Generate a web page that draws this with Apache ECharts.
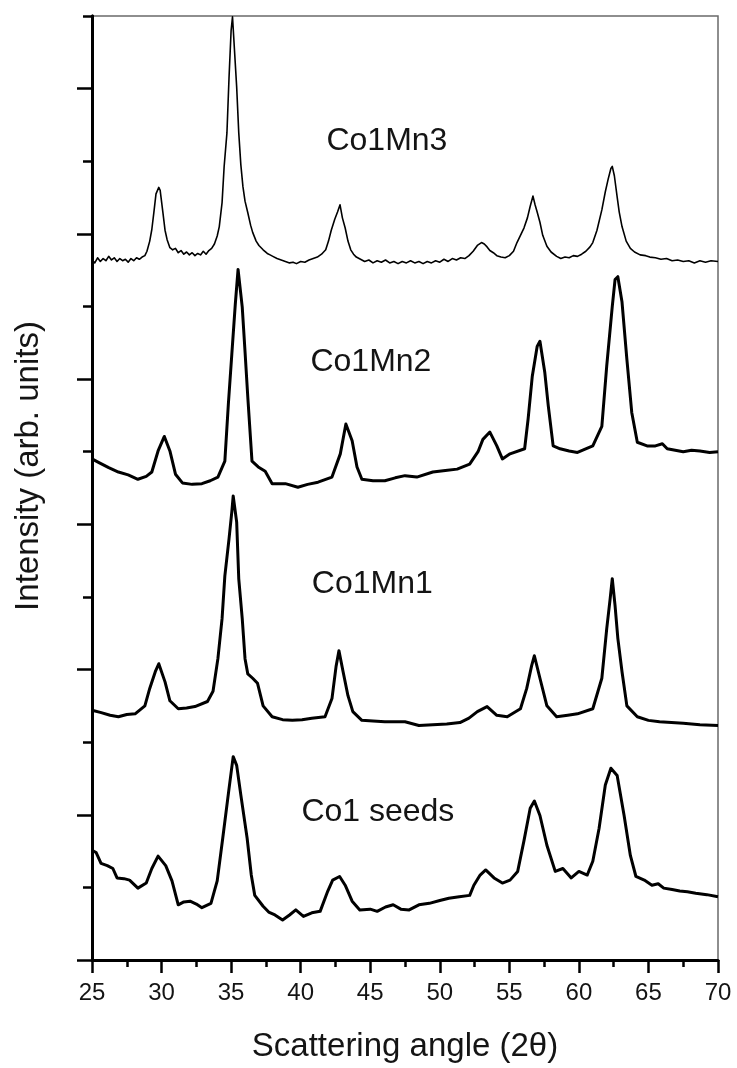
<!DOCTYPE html>
<html>
<head>
<meta charset="utf-8">
<script src="https://cdn.jsdelivr.net/npm/echarts@6/dist/echarts.min.js"></script>
<style>
  html, body { margin: 0; padding: 0; background: #ffffff; }
  #chart { width: 737px; height: 1068px; }
</style>
</head>
<body>
<div id="chart"></div>
<script>
// Stacked XRD patterns, intensity in arbitrary units (one unit per y tick).
const angleTicks = [25, 30, 35, 40, 45, 50, 55, 60, 65, 70];
const intensityMajorTicks = [0, 2, 4, 6, 8, 10, 12];
const intensityMinorTicks = [1, 3, 5, 7, 9, 11, 13];
const sampleNames = ['Co1Mn3', 'Co1Mn2', 'Co1Mn1', 'Co1 seeds'];

const co1Mn3 = [
  [25.0, 9.64], [25.2, 9.60], [25.4, 9.67], [25.6, 9.62], [25.8, 9.66], [26.0, 9.63], [26.2, 9.69],
  [26.4, 9.64], [26.6, 9.67], [26.8, 9.62], [27.0, 9.66], [27.2, 9.63], [27.4, 9.65], [27.6, 9.61],
  [27.8, 9.66], [28.0, 9.63], [28.2, 9.67], [28.4, 9.65], [28.6, 9.68], [28.8, 9.70], [28.95, 9.76],
  [29.15, 9.90], [29.3, 10.06], [29.45, 10.30], [29.6, 10.55], [29.8, 10.64], [29.9, 10.60],
  [30.1, 10.29], [30.25, 10.05], [30.4, 9.92], [30.6, 9.81], [30.8, 9.78], [31.0, 9.80], [31.2, 9.74],
  [31.4, 9.77], [31.6, 9.72], [31.8, 9.75], [32.0, 9.71], [32.2, 9.74], [32.4, 9.70], [32.6, 9.73],
  [32.8, 9.71], [33.0, 9.76], [33.2, 9.72], [33.4, 9.77], [33.6, 9.80], [33.8, 9.86], [34.0, 9.97],
  [34.15, 10.10], [34.35, 10.43], [34.5, 10.93], [34.7, 11.39], [34.85, 12.15], [35.0, 12.80],
  [35.1, 12.99], [35.2, 12.98], [35.4, 12.02], [35.55, 11.39], [35.7, 10.95], [35.85, 10.65],
  [36.0, 10.45], [36.2, 10.29], [36.4, 10.12], [36.55, 10.02], [36.8, 9.90], [37.0, 9.84],
  [37.3, 9.78], [37.6, 9.73], [37.8, 9.71], [38.0, 9.69], [38.3, 9.66], [38.6, 9.64], [38.9, 9.62],
  [39.2, 9.60], [39.45, 9.61], [39.7, 9.59], [40.0, 9.62], [40.3, 9.61], [40.6, 9.64], [40.9, 9.66],
  [41.2, 9.68], [41.5, 9.72], [41.8, 9.78], [42.0, 9.90], [42.2, 10.05], [42.45, 10.20], [42.65, 10.30],
  [42.83, 10.40], [43.0, 10.22], [43.2, 10.08], [43.4, 9.90], [43.6, 9.78], [43.8, 9.72], [44.0, 9.68],
  [44.3, 9.65], [44.6, 9.62], [44.9, 9.64], [45.2, 9.60], [45.5, 9.63], [45.8, 9.61], [46.1, 9.64],
  [46.4, 9.60], [46.7, 9.62], [47.0, 9.59], [47.3, 9.62], [47.6, 9.60], [47.9, 9.63], [48.2, 9.60],
  [48.5, 9.62], [48.8, 9.59], [49.1, 9.62], [49.4, 9.60], [49.7, 9.63], [50.0, 9.61], [50.3, 9.65],
  [50.6, 9.62], [50.9, 9.66], [51.2, 9.64], [51.5, 9.67], [51.8, 9.66], [52.1, 9.70], [52.4, 9.76],
  [52.7, 9.84], [53.0, 9.88], [53.2, 9.86], [53.4, 9.82], [53.6, 9.77], [53.85, 9.74], [54.1, 9.70],
  [54.4, 9.68], [54.7, 9.67], [55.0, 9.70], [55.3, 9.76], [55.55, 9.88], [55.8, 9.98], [56.05, 10.08],
  [56.3, 10.22], [56.5, 10.38], [56.7, 10.52], [56.85, 10.40], [57.0, 10.30], [57.2, 10.16],
  [57.4, 9.98], [57.7, 9.83], [58.0, 9.75], [58.4, 9.69], [58.7, 9.66], [59.0, 9.68], [59.3, 9.67],
  [59.6, 9.70], [59.9, 9.69], [60.2, 9.72], [60.5, 9.76], [60.8, 9.82], [61.0, 9.88], [61.3, 10.05],
  [61.65, 10.33], [61.9, 10.58], [62.1, 10.75], [62.3, 10.90], [62.4, 10.93], [62.55, 10.80],
  [62.75, 10.51], [62.9, 10.30], [63.1, 10.10], [63.4, 9.90], [63.7, 9.80], [64.0, 9.75], [64.4, 9.71],
  [64.8, 9.70], [65.1, 9.68], [65.5, 9.67], [65.9, 9.65], [66.3, 9.66], [66.7, 9.63], [67.1, 9.64],
  [67.5, 9.62], [67.9, 9.63], [68.3, 9.60], [68.7, 9.63], [69.1, 9.61], [69.5, 9.63], [70.0, 9.62]
];

const co1Mn2 = [
  [25.0, 6.90], [25.5, 6.85], [26.2, 6.78], [26.9, 6.72], [27.6, 6.68], [28.3, 6.62], [28.9, 6.66],
  [29.3, 6.72], [29.75, 7.01], [30.2, 7.21], [30.6, 7.01], [31.0, 6.69], [31.5, 6.57], [32.2, 6.55],
  [32.9, 6.56], [33.5, 6.60], [34.05, 6.65], [34.55, 6.87], [34.8, 7.65], [35.05, 8.34], [35.3, 9.03],
  [35.5, 9.51], [35.8, 8.99], [36.0, 8.38], [36.2, 7.75], [36.5, 6.87], [36.95, 6.79], [37.45, 6.73],
  [37.95, 6.56], [38.9, 6.56], [39.8, 6.51], [40.5, 6.55], [41.25, 6.58], [42.25, 6.65], [42.85, 6.97],
  [43.25, 7.38], [43.7, 7.15], [44.05, 6.79], [44.4, 6.62], [45.2, 6.60], [46.05, 6.60], [46.8, 6.64],
  [47.5, 6.67], [48.35, 6.65], [49.5, 6.72], [50.4, 6.74], [51.25, 6.76], [52.15, 6.83], [52.75, 7.00],
  [53.1, 7.17], [53.6, 7.27], [54.1, 7.08], [54.5, 6.90], [55.05, 6.97], [56.1, 7.04], [56.35, 7.45],
  [56.65, 8.04], [57.0, 8.45], [57.2, 8.52], [57.55, 8.09], [57.8, 7.63], [58.15, 7.08], [58.65, 7.04],
  [59.3, 7.01], [59.9, 6.99], [61.0, 7.08], [61.65, 7.35], [62.0, 8.18], [62.4, 9.00], [62.6, 9.37],
  [62.8, 9.41], [63.1, 9.06], [63.45, 8.27], [63.8, 7.54], [64.2, 7.13], [64.9, 7.08], [65.5, 7.08],
  [66.0, 7.11], [66.35, 7.04], [67.5, 7.00], [68.1, 7.02], [68.7, 7.01], [69.4, 6.99], [70.0, 7.00]
];

const co1Mn1 = [
  [25.0, 3.44], [25.6, 3.41], [26.3, 3.37], [26.9, 3.35], [27.5, 3.38], [28.1, 3.39], [28.8, 3.50],
  [29.15, 3.74], [29.55, 3.97], [29.8, 4.08], [30.25, 3.83], [30.6, 3.57], [31.2, 3.46], [31.8, 3.47],
  [32.4, 3.49], [33.3, 3.56], [33.7, 3.70], [34.05, 4.15], [34.35, 4.70], [34.55, 5.29], [34.85, 5.80],
  [35.05, 6.17], [35.15, 6.39], [35.4, 6.03], [35.55, 5.25], [35.8, 4.70], [36.0, 4.15], [36.2, 3.94],
  [36.55, 3.88], [36.9, 3.81], [37.3, 3.50], [37.95, 3.35], [38.7, 3.31], [39.4, 3.30], [40.1, 3.31],
  [40.8, 3.33], [41.75, 3.35], [42.25, 3.60], [42.55, 4.05], [42.75, 4.26], [43.05, 3.97], [43.4, 3.64],
  [43.75, 3.42], [44.4, 3.30], [45.2, 3.29], [46.05, 3.28], [47.5, 3.28], [48.5, 3.23], [49.5, 3.24],
  [50.5, 3.25], [51.45, 3.27], [52.1, 3.33], [52.7, 3.42], [53.4, 3.49], [54.1, 3.37], [54.85, 3.35],
  [55.8, 3.46], [56.25, 3.74], [56.6, 4.05], [56.8, 4.19], [57.2, 3.88], [57.7, 3.50], [58.4, 3.35],
  [59.2, 3.37], [59.9, 3.39], [61.0, 3.46], [61.65, 3.88], [62.0, 4.56], [62.25, 4.98], [62.4, 5.25],
  [62.6, 4.88], [62.8, 4.43], [63.1, 3.97], [63.45, 3.50], [64.2, 3.35], [65.0, 3.30], [65.8, 3.28],
  [67.5, 3.26], [68.7, 3.24], [70.0, 3.23]
];

const co1Seeds = [
  [25.0, 1.51], [25.3, 1.48], [25.65, 1.33], [26.1, 1.30], [26.5, 1.26], [26.8, 1.13], [27.3, 1.12],
  [27.7, 1.10], [28.3, 0.99], [28.9, 1.06], [29.3, 1.26], [29.75, 1.43], [30.3, 1.30], [30.75, 1.09],
  [31.2, 0.76], [31.6, 0.80], [32.05, 0.81], [32.5, 0.77], [32.9, 0.72], [33.55, 0.78], [34.0, 1.09],
  [34.4, 1.68], [34.85, 2.36], [35.15, 2.80], [35.4, 2.68], [35.7, 2.27], [36.15, 1.68], [36.45, 1.17],
  [36.7, 0.89], [37.3, 0.74], [37.7, 0.66], [38.15, 0.62], [38.7, 0.55], [39.2, 0.62], [39.65, 0.69],
  [40.2, 0.60], [40.8, 0.65], [41.4, 0.67], [41.95, 0.95], [42.3, 1.10], [42.8, 1.15], [43.2, 1.03],
  [43.7, 0.81], [44.25, 0.69], [45.0, 0.70], [45.5, 0.67], [46.1, 0.73], [46.65, 0.76], [47.2, 0.70],
  [47.8, 0.69], [48.5, 0.76], [49.25, 0.78], [50.0, 0.82], [50.65, 0.85], [51.4, 0.87], [52.15, 0.89],
  [52.45, 1.03], [52.9, 1.17], [53.3, 1.24], [53.9, 1.13], [54.5, 1.06], [55.05, 1.10], [55.6, 1.22],
  [56.05, 1.64], [56.5, 2.09], [56.8, 2.19], [57.2, 1.99], [57.7, 1.58], [58.3, 1.22], [58.85, 1.26],
  [59.45, 1.13], [60.0, 1.22], [60.6, 1.17], [61.0, 1.36], [61.45, 1.81], [61.9, 2.41], [62.3, 2.64],
  [62.75, 2.54], [63.25, 1.99], [63.7, 1.44], [64.1, 1.15], [64.7, 1.10], [65.25, 1.03], [65.7, 1.05],
  [66.1, 0.99], [66.7, 0.97], [67.25, 0.95], [67.8, 0.94], [68.4, 0.92], [69.2, 0.90], [70.0, 0.87]
];

const patterns = [co1Mn3, co1Mn2, co1Mn1, co1Seeds];

const FONT = "'Liberation Sans', Arial, sans-serif";
const TEXT_COLOR = '#141414';

// where each sample name sits, in axis units
const nameAnchors = [[46.2, 11.28], [45.05, 8.23], [45.15, 5.17], [45.55, 2.03]];
const lineWidths = [1.6, 3, 3, 3];

const chart = echarts.init(document.getElementById('chart'), null, { renderer: 'canvas' });

const series = sampleNames.map((name, i) => ({
  name: name,
  type: 'line',
  data: patterns[i],
  showSymbol: false,
  symbol: 'none',
  silent: true,
  lineStyle: { color: '#000', width: lineWidths[i], join: 'round' },
  markPoint: {
    silent: true,
    symbol: 'circle',
    symbolSize: 0,
    data: [{ coord: nameAnchors[i], value: name }],
    label: {
      show: true,
      position: 'inside',
      formatter: name,
      fontFamily: FONT,
      fontSize: 32,
      color: TEXT_COLOR
    }
  }
}));

const yBase = {
  type: 'value',
  min: intensityMajorTicks[0],
  max: intensityMinorTicks[intensityMinorTicks.length - 1],
  position: 'left',
  splitLine: { show: false },
  axisLabel: { show: false },
  axisLine: { show: true, lineStyle: { color: '#000', width: 3 } }
};

chart.setOption({
  animation: false,
  backgroundColor: '#ffffff',
  grid: {
    left: 92, right: 19, top: 16, bottom: 106,
    show: true, borderColor: '#6a6a6a', borderWidth: 1.5, backgroundColor: 'transparent'
  },
  xAxis: {
    type: 'value',
    min: angleTicks[0],
    max: angleTicks[angleTicks.length - 1],
    interval: angleTicks[1] - angleTicks[0],
    name: 'Scattering angle (2θ)',
    nameLocation: 'middle',
    nameGap: 70,
    nameTextStyle: { fontFamily: FONT, fontSize: 33, color: TEXT_COLOR },
    axisLine: { show: true, onZero: false, lineStyle: { color: '#000', width: 3 } },
    axisTick: { show: true, inside: false, length: 13, lineStyle: { color: '#000', width: 2.5 } },
    minorTick: { show: true, splitNumber: 2, length: 7, lineStyle: { color: '#000', width: 2.5 } },
    axisLabel: { fontFamily: FONT, fontSize: 24, color: TEXT_COLOR, margin: 21 },
    splitLine: { show: false }
  },
  yAxis: [
    Object.assign({}, yBase, {
      name: 'Intensity (arb. units)',
      nameLocation: 'middle',
      nameGap: 47,
      nameTextStyle: { fontFamily: FONT, fontSize: 33, color: TEXT_COLOR, padding: [0, 0, 0, 44] },
      axisTick: {
        show: true, length: 15, customValues: intensityMajorTicks,
        lineStyle: { color: '#000', width: 2.5 }
      }
    }),
    Object.assign({}, yBase, {
      axisTick: {
        show: true, length: 9, customValues: intensityMinorTicks,
        lineStyle: { color: '#000', width: 2.5 }
      }
    })
  ],
  series: series
});
</script>
</body>
</html>
